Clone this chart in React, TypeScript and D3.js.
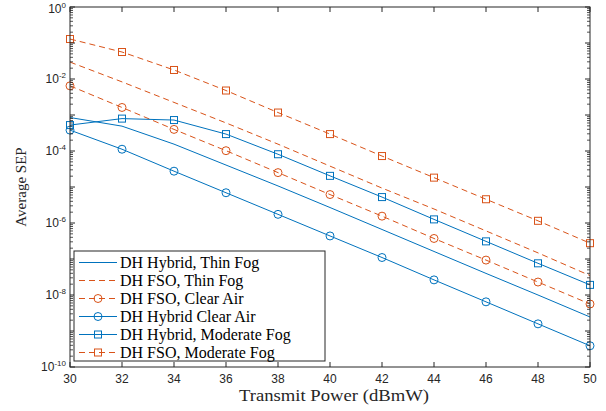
import React from "react";
import * as d3 from "d3";

const power = [30, 32, 34, 36, 38, 40, 42, 44, 46, 48, 50];

const hybridThinFog = [8.51e-4, 4.9e-4, 1.55e-4, 4.07e-5, 1.07e-5, 2.69e-6, 6.61e-7, 1.62e-7, 3.98e-8, 1e-8, 2.45e-9];
const fsoThinFog = [0.0295, 8.32e-3, 2.24e-3, 6.03e-4, 1.55e-4, 3.8e-5, 9.33e-6, 2.45e-6, 6.03e-7, 1.48e-7, 3.47e-8];
const fsoClearAir = [6.46e-3, 1.62e-3, 3.98e-4, 1.02e-4, 2.51e-5, 6.17e-6, 1.55e-6, 3.72e-7, 9.33e-8, 2.29e-8, 5.62e-9];
const hybridClearAir = [3.8e-4, 1.12e-4, 2.75e-5, 6.92e-6, 1.74e-6, 4.37e-7, 1.1e-7, 2.63e-8, 6.46e-9, 1.58e-9, 3.89e-10];
const hybridModerateFog = [5.25e-4, 7.94e-4, 7.24e-4, 2.95e-4, 8.13e-5, 2.04e-5, 5.25e-6, 1.26e-6, 3.09e-7, 7.59e-8, 1.91e-8];
const fsoModerateFog = [0.129, 0.0562, 0.0178, 4.79e-3, 1.17e-3, 2.95e-4, 7.24e-5, 1.82e-5, 4.57e-6, 1.15e-6, 2.75e-7];

const seriesNames = [
  "DH Hybrid, Thin Fog",
  "DH FSO, Thin Fog",
  "DH FSO, Clear Air",
  "DH Hybrid Clear Air",
  "DH Hybrid, Moderate Fog",
  "DH FSO, Moderate Fog",
];
const seriesValues = [hybridThinFog, fsoThinFog, fsoClearAir, hybridClearAir, hybridModerateFog, fsoModerateFog];
const seriesKind = ["hybrid", "fso", "fso", "hybrid", "hybrid", "fso"];
const seriesMarker = ["none", "none", "circle", "circle", "square", "square"];

const xTicks = [30, 32, 34, 36, 38, 40, 42, 44, 46, 48, 50];
const yLabelExps = [0, -2, -4, -6, -8, -10];

const BLUE = "#0072BD";
const ORANGE = "#D95319";
const AXIS = "#262626";

export default function App() {
  const W = 606, H = 411;
  const L = 70, R = 590, T = 7, B = 367;
  const x = d3.scaleLinear().domain([30, 50]).range([L, R]);
  const y = d3.scaleLog().domain([1e-10, 1]).range([B, T]);
  const line = d3.line<[number, number]>().x((d) => x(d[0])).y((d) => y(d[1]));

  const majorY: number[] = [];
  const minorY: number[] = [];
  for (let e = -10; e <= 0; e++) {
    majorY.push(Math.pow(10, e));
    if (e < 0) for (let k = 2; k <= 9; k++) minorY.push(k * Math.pow(10, e));
  }

  const marker = (type: string, cx: number, cy: number, color: string, key: string) => {
    if (type === "circle")
      return <circle key={key} cx={cx} cy={cy} r={4} fill="none" stroke={color} strokeWidth={1} />;
    if (type === "square")
      return <rect key={key} x={cx - 3.5} y={cy - 3.5} width={7} height={7} fill="none" stroke={color} strokeWidth={1} />;
    return null;
  };

  const legX = 74, legY = 251, legW = 251, legH = 110;
  const rowH = 18;

  return (
    <svg width={W} height={H} style={{ position: "absolute", left: 0, top: 0, background: "#fff" }}>
      <rect x={0} y={0} width={W} height={H} fill="#fff" />
      {/* series */}
      {seriesValues.map((vals, i) => {
        const color = seriesKind[i] === "fso" ? ORANGE : BLUE;
        const pts = power.map((p, j) => [p, vals[j]] as [number, number]);
        return (
          <g key={i}>
            <path
              d={line(pts) || ""}
              fill="none"
              stroke={color}
              strokeWidth={1}
              strokeDasharray={seriesKind[i] === "fso" ? "6,4" : undefined}
            />
            {pts.map((p, j) => marker(seriesMarker[i], x(p[0]), y(p[1]), color, `${i}-${j}`))}
          </g>
        );
      })}
      {/* axes box */}
      <rect x={L} y={T} width={R - L} height={B - T} fill="none" stroke={AXIS} strokeWidth={1} />
      {/* x ticks */}
      {xTicks.map((t) => (
        <g key={"xt" + t}>
          <line x1={x(t)} x2={x(t)} y1={B} y2={B - 5} stroke={AXIS} />
          <line x1={x(t)} x2={x(t)} y1={T} y2={T + 5} stroke={AXIS} />
          <text x={x(t)} y={383} textAnchor="middle" fontFamily="Liberation Sans, Arial, sans-serif" fontSize={12} fill={AXIS}>
            {t}
          </text>
        </g>
      ))}
      {/* y ticks */}
      {majorY.map((v, i) => (
        <g key={"ym" + i}>
          <line x1={L} x2={L + 5} y1={y(v)} y2={y(v)} stroke={AXIS} />
          <line x1={R} x2={R - 5} y1={y(v)} y2={y(v)} stroke={AXIS} />
        </g>
      ))}
      {minorY.map((v, i) => (
        <g key={"yn" + i}>
          <line x1={L} x2={L + 3} y1={y(v)} y2={y(v)} stroke={AXIS} strokeWidth={0.8} />
          <line x1={R} x2={R - 3} y1={y(v)} y2={y(v)} stroke={AXIS} strokeWidth={0.8} />
        </g>
      ))}
      {yLabelExps.map((e) => (
        <text
          key={"yl" + e}
          x={66}
          y={y(Math.pow(10, e)) + (e === 0 ? 6 : 4)}
          textAnchor="end"
          fontFamily="Liberation Sans, Arial, sans-serif"
          fontSize={12}
          fill={AXIS}
        >
          10
          <tspan dy={-5} fontSize={8}>
            {e === 0 ? "0" : "-" + Math.abs(e)}
          </tspan>
        </text>
      ))}
      {/* axis labels */}
      <text
        x={334}
        y={401}
        textAnchor="middle"
        fontFamily="Liberation Serif, Times New Roman, serif"
        fontSize={17}
        textLength={190}
        lengthAdjust="spacingAndGlyphs"
        fill={AXIS}
      >
        Transmit Power (dBmW)
      </text>
      <text
        transform={`translate(26, ${(T + B) / 2}) rotate(-90)`}
        textAnchor="middle"
        fontFamily="Liberation Serif, Times New Roman, serif"
        fontSize={15}
        fill={AXIS}
      >
        Average SEP
      </text>
      {/* legend */}
      <g>
        <rect x={legX} y={legY} width={legW} height={legH} fill="#fff" stroke={AXIS} strokeWidth={1} />
        {seriesNames.map((name, i) => {
          const color = seriesKind[i] === "fso" ? ORANGE : BLUE;
          const cy = legY + 11.5 + i * rowH;
          return (
            <g key={"lg" + i}>
              <line
                x1={79}
                x2={117}
                y1={cy}
                y2={cy}
                stroke={color}
                strokeWidth={1}
                strokeDasharray={seriesKind[i] === "fso" ? "6,4" : undefined}
              />
              {marker(seriesMarker[i], 98, cy, color, "lm" + i)}
              <text x={120} y={cy + 5} fontFamily="Liberation Serif, Times New Roman, serif" fontSize={16} fill="#000">
                {name}
              </text>
            </g>
          );
        })}
      </g>
    </svg>
  );
}
